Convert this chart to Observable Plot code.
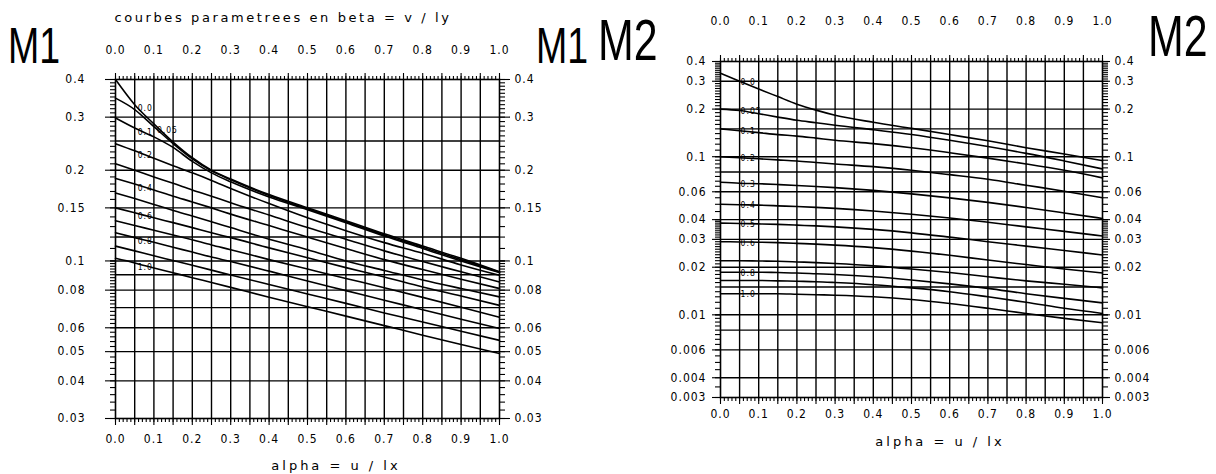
<!DOCTYPE html>
<html><head><meta charset="utf-8">
<script src="https://cdn.jsdelivr.net/npm/d3@7"></script>
<script src="https://cdn.jsdelivr.net/npm/@observablehq/plot@0.6"></script>
<style>
body{margin:0;background:#fff;}
#wrap{position:relative;width:1216px;height:474px;overflow:hidden;background:#fff;}
#wrap > svg, #wrap > div{position:absolute;}
</style></head><body><div id="wrap"></div>
<script>
// ---- data ----
const alphas = [0, 0.05, 0.1, 0.15, 0.2, 0.25, 0.3, 0.4, 0.5, 0.6, 0.7, 0.8, 0.9, 1.0];
const betas = ["0.0","0.05","0.1","0.2","0.3","0.4","0.5","0.6","0.7","0.8","0.9","1.0"];

// M1 curves (one per beta)
const m1_b000 = [0.400, 0.330, 0.285, 0.248, 0.220, 0.200, 0.187, 0.166, 0.150, 0.136, 0.123, 0.112, 0.102, 0.0920];
const m1_b005 = [0.347, 0.318, 0.279, 0.245, 0.218, 0.199, 0.186, 0.165, 0.149, 0.135, 0.122, 0.111, 0.101, 0.0918];
const m1_b010 = [0.298, 0.276, 0.258, 0.238, 0.214, 0.196, 0.183, 0.163, 0.148, 0.134, 0.121, 0.110, 0.100, 0.0915];
const m1_b020 = [0.245, 0.232, 0.219, 0.207, 0.196, 0.185, 0.174, 0.155, 0.139, 0.126, 0.115, 0.106, 0.097, 0.0896];
const m1_b030 = [0.210, 0.200, 0.190, 0.181, 0.172, 0.164, 0.156, 0.142, 0.129, 0.118, 0.108, 0.0995, 0.0920, 0.0851];
const m1_b040 = [0.188, 0.180, 0.172, 0.164, 0.157, 0.150, 0.143, 0.131, 0.120, 0.110, 0.101, 0.0936, 0.0870, 0.0810];
const m1_b050 = [0.168, 0.161, 0.154, 0.147, 0.141, 0.135, 0.129, 0.118, 0.109, 0.100, 0.0930, 0.0865, 0.0810, 0.0760];
const m1_b060 = [0.150, 0.1445, 0.139, 0.134, 0.129, 0.124, 0.1195, 0.1105, 0.1025, 0.095, 0.0885, 0.082, 0.0765, 0.0712];
const m1_b070 = [0.136, 0.131, 0.1265, 0.122, 0.1175, 0.113, 0.109, 0.101, 0.094, 0.0875, 0.0815, 0.0757, 0.0702, 0.065];
const m1_b080 = [0.124, 0.1195, 0.1153, 0.111, 0.107, 0.103, 0.0995, 0.0925, 0.0858, 0.0797, 0.074, 0.0689, 0.064, 0.0597];
const m1_b090 = [0.112, 0.108, 0.104, 0.1003, 0.0967, 0.0932, 0.0898, 0.0835, 0.0777, 0.0723, 0.0672, 0.0627, 0.0584, 0.0545];
const m1_b100 = [0.102, 0.0985, 0.0948, 0.0914, 0.088, 0.0848, 0.0817, 0.0758, 0.0705, 0.0656, 0.061, 0.0567, 0.0528, 0.0493];

// M2 curves (one per beta)
const m2_b000 = [0.337, 0.300, 0.268, 0.240, 0.215, 0.197, 0.183, 0.165, 0.151, 0.138, 0.126, 0.114, 0.104, 0.0944];
const m2_b005 = [0.200, 0.196, 0.187, 0.178, 0.170, 0.164, 0.158, 0.148, 0.138, 0.127, 0.116, 0.105, 0.094, 0.0837];
const m2_b010 = [0.150, 0.146, 0.142, 0.138, 0.135, 0.131, 0.127, 0.121, 0.114, 0.106, 0.098, 0.090, 0.082, 0.0735];
const m2_b020 = [0.100, 0.0985, 0.097, 0.0955, 0.094, 0.092, 0.090, 0.0865, 0.082, 0.077, 0.072, 0.066, 0.0605, 0.055];
const m2_b030 = [0.069, 0.068, 0.0675, 0.0667, 0.0658, 0.0648, 0.0637, 0.0612, 0.0582, 0.0549, 0.0514, 0.0477, 0.0441, 0.0407];
const m2_b040 = [0.050, 0.0497, 0.0494, 0.0489, 0.0484, 0.0478, 0.0471, 0.0454, 0.0433, 0.041, 0.0385, 0.036, 0.0337, 0.0315];
const m2_b050 = [0.038, 0.0378, 0.0376, 0.0373, 0.0369, 0.0365, 0.036, 0.0347, 0.033, 0.031, 0.029, 0.0272, 0.0255, 0.0239];
const m2_b060 = [0.029, 0.0289, 0.0288, 0.0286, 0.0283, 0.028, 0.0276, 0.0266, 0.0253, 0.0238, 0.0222, 0.0208, 0.0195, 0.0184];
const m2_b070 = [0.022, 0.022, 0.0219, 0.0218, 0.0216, 0.0214, 0.0211, 0.0204, 0.0195, 0.0185, 0.0174, 0.0164, 0.0156, 0.0148];
const m2_b080 = [0.0186, 0.0186, 0.0186, 0.0185, 0.0184, 0.0182, 0.018, 0.0174, 0.0166, 0.0157, 0.0147, 0.0136, 0.0127, 0.0119];
const m2_b090 = [0.0165, 0.0165, 0.0165, 0.0164, 0.0163, 0.0162, 0.016, 0.0155, 0.0148, 0.014, 0.013, 0.012, 0.011, 0.0102];
const m2_b100 = [0.0136, 0.0136, 0.0136, 0.0136, 0.0135, 0.0134, 0.0133, 0.013, 0.0125, 0.0118, 0.011, 0.0102, 0.0095, 0.0089];

// curve labels (beta written on the curve) and the alpha where they sit
const m1LabelBetas = ["0.0","0.05","0.1","0.2","0.4","0.6","0.8","1.0"];
const m1LabelAlpha = [0.05, 0.1, 0.05, 0.05, 0.05, 0.05, 0.05, 0.05];
const m2LabelBetas = ["0.0","0.05","0.1","0.2","0.3","0.4","0.5","0.6","0.8","1.0"];
const m2LabelAlpha = [0.05, 0.05, 0.05, 0.05, 0.05, 0.05, 0.05, 0.05, 0.05, 0.05];

// axes / grids
const xLabelTicks = [0, 0.1, 0.2, 0.3, 0.4, 0.5, 0.6, 0.7, 0.8, 0.9, 1.0];
const xGrid = [0.05,0.1,0.15,0.2,0.25,0.3,0.35,0.4,0.45,0.5,0.55,0.6,0.65,0.7,0.75,0.8,0.85,0.9,0.95];
const m1YTicks = [0.4, 0.3, 0.2, 0.15, 0.1, 0.08, 0.06, 0.05, 0.04, 0.03];
const m1YGrid = [0.3, 0.25, 0.2, 0.15, 0.12, 0.1, 0.09, 0.08, 0.07, 0.06, 0.05, 0.04];
const m2YTicks = [0.4, 0.3, 0.2, 0.1, 0.06, 0.04, 0.03, 0.02, 0.01, 0.006, 0.004, 0.003];
const m2YGrid = [0.3, 0.2, 0.15, 0.1, 0.08, 0.06, 0.04, 0.03, 0.02, 0.015, 0.01, 0.008, 0.006, 0.004];

const m1Series = [m1_b000,m1_b005,m1_b010,m1_b020,m1_b030,m1_b040,m1_b050,m1_b060,m1_b070,m1_b080,m1_b090,m1_b100];
const m2Series = [m2_b000,m2_b005,m2_b010,m2_b020,m2_b030,m2_b040,m2_b050,m2_b060,m2_b070,m2_b080,m2_b090,m2_b100];

// minor tick positions
const minorX = d3.range(0, 101).map(i => i / 100);
function minorYTicks(ranges){ const out=[]; for (const [a,b,s] of ranges){ const n=Math.round((b-a)/s); for(let i=0;i<=n;i++) out.push(+(a+i*s).toFixed(5)); } return out; }
const m1Minor = minorYTicks([[0.03,0.1,0.002],[0.1,0.4,0.01]]);
const m2Minor = minorYTicks([[0.003,0.01,0.0005],[0.01,0.04,0.001],[0.04,0.1,0.005],[0.1,0.4,0.01]]);

const FONT = '"DejaVu Sans Condensed","Liberation Sans Narrow","DejaVu Sans",sans-serif';
const fmtX = d => d.toFixed(1);
const fmtY = d => String(+(+d).toPrecision(3));
const blank = () => "";

function panel(o){
  const rows = [];
  o.series.forEach((vals, i) => vals.forEach((v, j) => rows.push({beta: betas[i], a: alphas[j], v})));
  const labRows = o.labels.map((b, k) => {
    const i = betas.indexOf(b), j = alphas.indexOf(o.labelAlpha[k]);
    return {beta: b, a: alphas[j], v: o.series[i][j]};
  });
  const ax = {stroke: "#000", strokeWidth: 1.1};
  return Plot.plot({
    width: o.width, height: o.height,
    marginLeft: o.ml, marginRight: o.mr, marginTop: o.mt, marginBottom: o.mb,
    style: {fontFamily: FONT, fontSize: "12px", color: "#000", background: "transparent", letterSpacing: "1px", fontStretch: "condensed"},
    x: {domain: [0, 1], label: null},
    y: {type: "log", domain: o.yDomain, label: null},
    marks: [
      Plot.ruleX(xGrid, {stroke: "#000", strokeWidth: 1.4}),
      Plot.ruleY(o.gridY, {stroke: "#000", strokeWidth: 1.4}),
      Plot.line(rows, {x: "a", y: "v", z: "beta", curve: "monotone-x", stroke: "#000", strokeWidth: 1.6}),
      Plot.text(labRows, {x: "a", y: "v", text: "beta", textAnchor: "start", dx: o.ldx, dy: o.ldy, fontSize: 8.5, fill: "#000", letterSpacing: "0px"}),
      Plot.frame({stroke: "#000", strokeWidth: 1.6}),
      Plot.axisX({anchor: "top", ticks: minorX, tickSize: 4, tickFormat: blank, ...ax}),
      Plot.axisX({anchor: "bottom", ticks: minorX, tickSize: 4, tickFormat: blank, ...ax}),
      Plot.axisX({anchor: "top", ticks: [0, ...xGrid, 1], tickSize: 7, tickFormat: blank, ...ax}),
      Plot.axisX({anchor: "bottom", ticks: [0, ...xGrid, 1], tickSize: 7, tickFormat: blank, ...ax}),
      Plot.axisX({anchor: "top", ticks: xLabelTicks, tickSize: 0, tickPadding: o.topPad, tickFormat: fmtX}),
      Plot.axisX({anchor: "bottom", ticks: xLabelTicks, tickSize: 0, tickPadding: o.botPad, tickFormat: fmtX}),
      Plot.axisY({anchor: "left", ticks: o.minorY, tickSize: 5, tickFormat: blank, ...ax}),
      Plot.axisY({anchor: "right", ticks: o.minorY, tickSize: 5, tickFormat: blank, ...ax}),
      Plot.axisY({anchor: "left", ticks: o.ticksY, tickSize: o.lts, tickFormat: blank, ...ax}),
      Plot.axisY({anchor: "right", ticks: o.ticksY, tickSize: o.rts, tickFormat: blank, ...ax}),
      // y tick labels, positioned through the y scale
      Plot.text(o.ticksY, {y: d => d, text: fmtY, frameAnchor: "left", textAnchor: "end", dx: -(o.lts + o.ltp), fill: "#000"}),
      Plot.text(o.ticksY, {y: d => d, text: fmtY, frameAnchor: "right", textAnchor: "start", dx: (o.rts + o.rtp), fill: "#000"})
    ]
  });
}

const wrap = document.getElementById("wrap");

const p1 = panel({series: m1Series, labels: m1LabelBetas, labelAlpha: m1LabelAlpha,
  yDomain: [0.03, 0.4], gridY: m1YGrid, ticksY: m1YTicks, minorY: m1Minor,
  width: 560, height: 474, ml: 115, mr: 61, mt: 79, mb: 56,
  topPad: 26, botPad: 16, lts: 10, ltp: 20, rts: 10, rtp: 5, ldx: 3, ldy: 4});
p1.style.left = "0px"; p1.style.top = "0px";
wrap.appendChild(p1);

const p2 = panel({series: m2Series, labels: m2LabelBetas, labelAlpha: m2LabelAlpha,
  yDomain: [0.003, 0.4], gridY: m2YGrid, ticksY: m2YTicks, minorY: m2Minor,
  width: 656, height: 474, ml: 160, mr: 114, mt: 61, mb: 77,
  topPad: 37, botPad: 12, lts: 8, ltp: 6, rts: 7, rtp: 5, ldx: 1, ldy: 1});
p2.style.left = "560px"; p2.style.top = "0px";
wrap.appendChild(p2);

// annotation overlay (titles, panel names, axis names) as real text
const ns = "http://www.w3.org/2000/svg";
const ov = document.createElementNS(ns, "svg");
ov.setAttribute("width", 1216); ov.setAttribute("height", 474);
ov.style.left = "0px"; ov.style.top = "0px"; ov.style.pointerEvents = "none";
function txt(s, x, y, size, anchor, extra){
  const t = document.createElementNS(ns, "text");
  t.textContent = s;
  if (extra && extra.sx) {
    t.setAttribute("transform", `translate(${x},${y}) scale(${extra.sx},1)`);
  } else { t.setAttribute("x", x); t.setAttribute("y", y); }
  t.setAttribute("font-size", size); t.setAttribute("text-anchor", anchor);
  t.setAttribute("fill", "#000");
  t.setAttribute("font-family", extra && extra.family || FONT);
  if (extra && extra.ls) t.style.letterSpacing = extra.ls;
  ov.appendChild(t);
}
const BIG = '"Liberation Sans",Arial,sans-serif';
txt("M1", 8, 63, 50, "start", {family: BIG, sx: 0.75});
txt("M1", 536, 63, 50, "start", {family: BIG, sx: 0.75});
txt("M2", 598, 60, 58, "start", {family: BIG, sx: 0.74});
txt("M2", 1148, 56, 58, "start", {family: BIG, sx: 0.74});
txt("courbes parametrees en beta = v / ly", 283, 22, 13, "middle", {ls: "2.6px", family: '"DejaVu Sans",sans-serif'});
txt("alpha = u / lx", 336, 470, 13, "middle", {ls: "3px", family: '"DejaVu Sans",sans-serif'});
txt("alpha = u / lx", 940, 446, 13, "middle", {ls: "3px", family: '"DejaVu Sans",sans-serif'});
wrap.appendChild(ov);
</script></body></html>
